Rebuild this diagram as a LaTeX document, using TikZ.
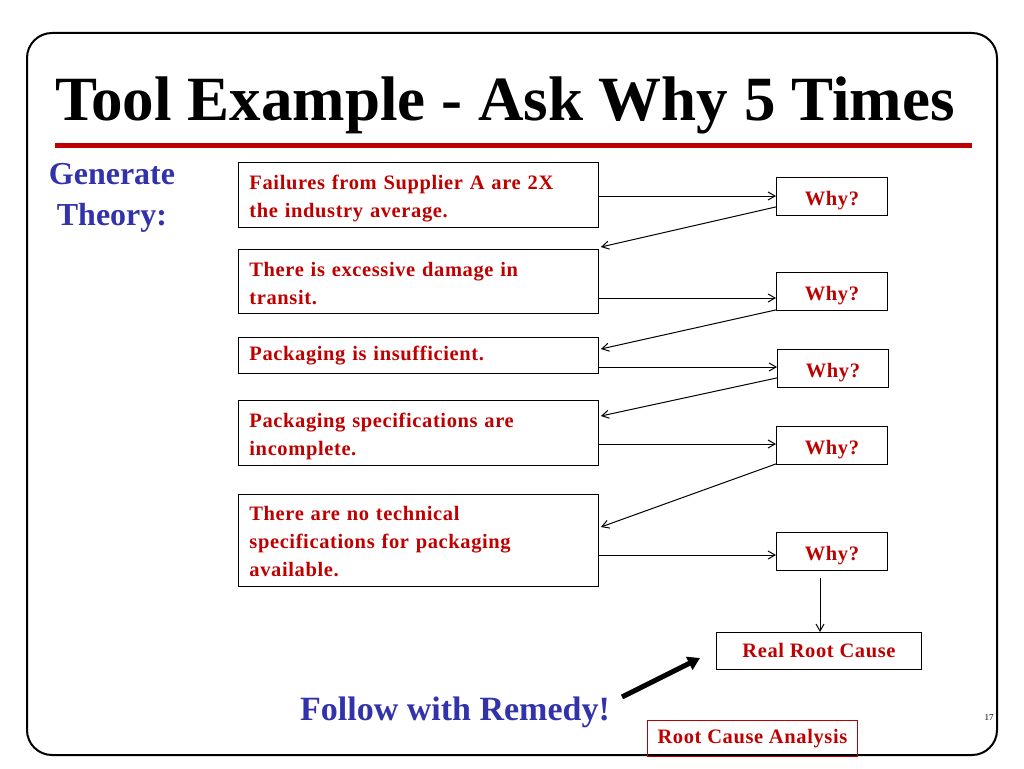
\documentclass[tikz,border=0pt]{standalone}
\usepackage{fontspec}
\setmainfont{Liberation Serif}
\newfontfamily\lsfont{Liberation Serif}[LetterSpace=3]
\usetikzlibrary{calc,arrows.meta}
\definecolor{dred}{RGB}{190,0,0}
\definecolor{tblue}{RGB}{50,50,170}
\begin{document}
\begin{tikzpicture}[x=1pt,y=-1pt,
  txt/.style={draw,line width=0.9pt,anchor=north west,inner sep=0pt,text=dred,font=\fontsize{20.5}{28}\lsfont\bfseries,align=left,text width=338pt,inner xsep=11pt},
  why/.style={draw,line width=0.9pt,anchor=north west,inner sep=0pt,minimum width=111pt,minimum height=38pt,text=dred,font=\fontsize{20.5}{22}\lsfont\bfseries,text height=24pt,text depth=6pt},
  arr/.style={-{Straight Barb[length=7pt,width=8pt]},line width=1pt}]
\useasboundingbox (0,0) rectangle (1024,768);
\draw[line width=2pt,rounded corners=25pt] (27,33) rectangle (997,755);
\node[anchor=base west,inner sep=0pt,font=\fontsize{63}{66}\selectfont\bfseries] (title) at (55,120) {Tool Example - Ask Why 5 Times};
\draw[dred,line width=5pt] (55,145) -- (972,145);
\node[text=tblue,align=center,font=\fontsize{32}{41}\selectfont\bfseries,inner sep=0pt] (gen) at (112,198) {Generate\\Theory:};
\node[txt,minimum height=65pt,text height=23pt,text depth=34pt] (b1) at (238,162) {Failures from Supplier A are 2X\\the industry average.};
\node[txt,minimum height=64pt,text height=23pt,text depth=33pt] (b2) at (238,249) {There is excessive damage in\\transit.};
\node[txt,minimum height=36pt,text height=20pt,text depth=10pt] (b3) at (238,337) {Packaging is insufficient.};
\node[txt,minimum height=65pt,text height=23pt,text depth=34pt] (b4) at (238,400) {Packaging specifications are\\incomplete.};
\node[txt,minimum height=92pt,text height=23pt,text depth=62pt] (b5) at (238,494) {There are no technical\\specifications for packaging\\available.};
\node[why] (w1) at (776,177) {Why?};
\node[why] (w2) at (776,272) {Why?};
\node[why] (w3) at (777,349) {Why?};
\node[why] (w4) at (776,426) {Why?};
\node[why] (w5) at (776,532) {Why?};
\node[draw,line width=0.9pt,anchor=north west,minimum width=205pt,minimum height=37pt,inner sep=0pt,text=dred,font=\fontsize{20.5}{22}\lsfont\bfseries] (rc) at (716,632) {Real Root Cause};
\draw[arr] (b1.east|-0,196) -- (w1.west|-0,196);
\draw[arr] ($(w1.south west)+(0,-9)$) -- ($(b2.north east)+(2,-2)$);
\draw[arr] (b2.east|-0,298) -- (w2.west|-0,298);
\draw[arr] ($(w2.south west)+(0,-1)$) -- ($(b3.north east)+(2,12)$);
\draw[arr] (b3.east|-0,367) -- (w3.west|-0,367);
\draw[arr] ($(w3.south west)+(0,-10)$) -- ($(b4.north east)+(2,16)$);
\draw[arr] (b4.east|-0,444) -- (w4.west|-0,444);
\draw[arr] ($(w4.south west)+(0,-1)$) -- ($(b5.north east)+(2,33)$);
\draw[arr] (b5.east|-0,555) -- (w5.west|-0,555);
\draw[arr] (820,578) -- (rc.north-|820,0);
\node[text=tblue,font=\fontsize{34}{36}\selectfont\bfseries,inner sep=0pt] (fr) at (455,712) {Follow with Remedy!};
\coordinate (ft) at (700,658);
\draw[line width=5pt,-{Triangle[length=12pt,width=14pt]}] (622,697) -- (ft);
\node[draw=dred,line width=0.9pt,anchor=north west,minimum width=210pt,minimum height=36pt,inner sep=0pt,text=dred,font=\fontsize{20.5}{22}\lsfont\bfseries] (rca) at (647,720) {Root Cause Analysis};
\node[font=\fontsize{9}{10}\selectfont,inner sep=0pt] (pg) at (989,718) {17};
\end{tikzpicture}
\end{document}
